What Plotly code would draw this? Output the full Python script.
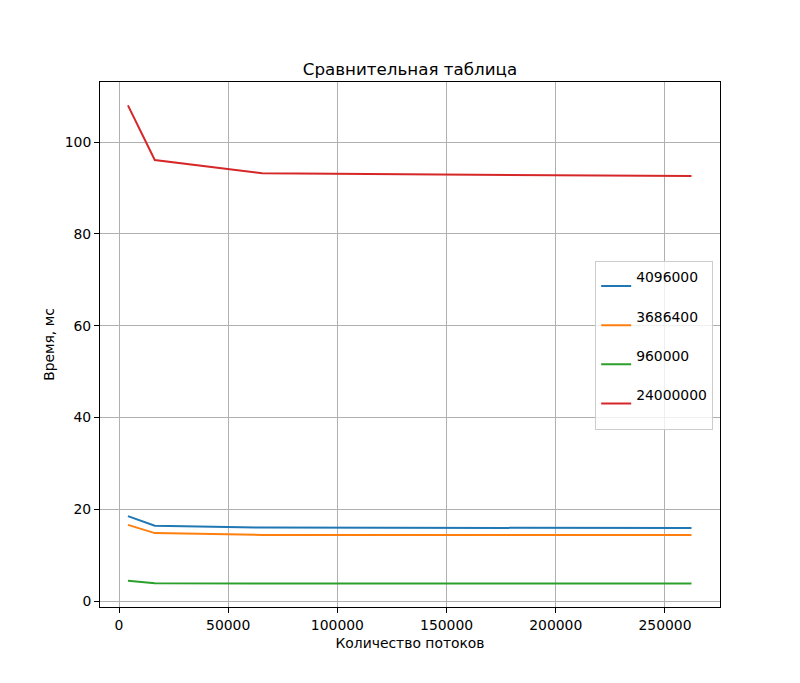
import plotly.graph_objects as go

# thread counts
threads = [4096, 16384, 65536, 262144]

# time in ms for each data size
series_names = ["4096000", "3686400", "960000", "24000000"]
t_4096000 = [18.5, 16.4, 16.0, 15.9]
t_3686400 = [16.6, 14.8, 14.4, 14.4]
t_960000 = [4.4, 3.9, 3.8, 3.8]
t_24000000 = [108.0, 96.1, 93.2, 92.6]

colors = ["#1f77b4", "#ff7f0e", "#2ca02c", "#d62728"]

fig = go.Figure()
for name, vals, c in zip(series_names, [t_4096000, t_3686400, t_960000, t_24000000], colors):
    fig.add_trace(go.Scatter(
        x=threads, y=vals, mode="lines",
        name=name + "<br><span style='font-size:9px'> </span>",
        line=dict(color=c, width=2),
    ))

axis_common = dict(
    showgrid=True, gridcolor="#b0b0b0", gridwidth=0.8,
    showline=True, linecolor="black", linewidth=1, mirror=True,
    ticks="outside", ticklen=5, tickcolor="black",
    zeroline=False,
    tickfont=dict(size=13.9, color="black"),
)

fig.update_xaxes(
    range=[-8700, 275200], tickvals=[0, 50000, 100000, 150000, 200000, 250000],
    ticktext=["0", "50000", "100000", "150000", "200000", "250000"],
    title=dict(text="Количество потоков", font=dict(size=13.9, color="black"), standoff=6),
    **axis_common,
)
fig.update_yaxes(
    range=[-1.3, 113.1], tickvals=[0, 20, 40, 60, 80, 100],
    title=dict(text="Время, мс", font=dict(size=13.9, color="black"), standoff=6),
    **axis_common,
)

# the page has an 8px body margin, so margins are shifted to compensate
fig.update_layout(
    width=800, height=683,
    template="simple_white",
    font=dict(family="DejaVu Sans", color="black"),
    title=dict(text="Сравнительная таблица", x=(92 + 310) / 800, xanchor="center",
               y=1 - 61 / 683, yanchor="middle", font=dict(size=16.7, color="black")),
    margin=dict(l=92, r=88, t=74, b=84),
    plot_bgcolor="white", paper_bgcolor="white",
    showlegend=True,
    legend=dict(
        x=0.989, xanchor="right", y=0.499, yanchor="middle",
        bgcolor="rgba(255,255,255,0.8)", bordercolor="#cccccc", borderwidth=1,
        font=dict(size=13.9, color="black"), valign="middle",
        tracegroupgap=0, itemwidth=30,
    ),
)

fig.write_html("out.html")
